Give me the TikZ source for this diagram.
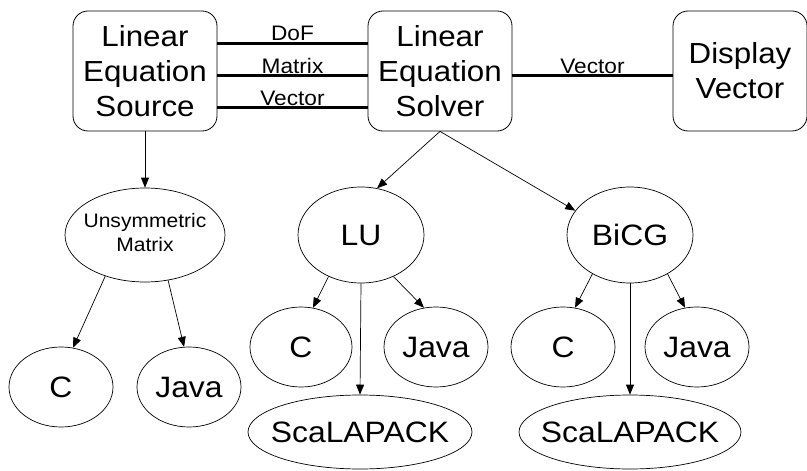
\documentclass[tikz,border=0pt]{standalone}
\usepackage{fontspec}
\setmainfont[FakeStretch=1.08]{Liberation Sans}
\usetikzlibrary{shapes.geometric,arrows.meta}
\newcommand{\zw}[1]{\makebox[0pt]{#1}}
\begin{document}
\begin{tikzpicture}[x=1pt,y=-1pt,
  box/.style={draw,rounded corners=15pt,minimum width=144pt,minimum height=120pt,line width=0.8pt,align=center,inner sep=0pt,font=\fontsize{29}{35}\selectfont},
  ell/.style={draw,ellipse,inner sep=0pt,line width=0.7pt,font=\fontsize{29.5}{34}\selectfont},
  bus/.style={line width=3pt},
  lbl/.style={anchor=base,yshift=2pt,inner sep=0pt,font=\fontsize{21}{23}\selectfont},
  arr/.style={line width=0.7pt,-{Triangle[length=10pt,width=8pt]}}]
\useasboundingbox (0,0) rectangle (807,471);
% boxes
\node[box] (src) at (145,71) {Linear\\Equation\\Source};
\node[box] (slv) at (440,71) {Linear\\Equation\\Solver};
\node[box,minimum width=134pt] (dsp) at (740,71) {Display\\Vector};
% ellipses
\node[ell,minimum width=160pt,minimum height=94pt] (um) at (145,235)
  {\zw{\fontsize{19.5}{24}\selectfont\begin{tabular}{@{}c@{}}Unsymmetric\\[0pt]Matrix\end{tabular}}};
\node[ell,minimum width=104pt,minimum height=80pt] (c1) at (61,387) {\zw{C}};
\node[ell,minimum width=104pt,minimum height=80pt] (j1) at (189,387) {\zw{Java}};
\node[ell,minimum width=126pt,minimum height=96pt] (lu) at (361,235) {\zw{LU}};
\node[ell,minimum width=126pt,minimum height=96pt] (bi) at (630,235) {\zw{BiCG}};
\node[ell,minimum width=102pt,minimum height=80pt] (c2) at (301,347) {\zw{C}};
\node[ell,minimum width=104pt,minimum height=80pt] (j2) at (436,347) {\zw{Java}};
\node[ell,minimum width=104pt,minimum height=80pt] (c3) at (563,347) {\zw{C}};
\node[ell,minimum width=104pt,minimum height=80pt] (j3) at (697,347) {\zw{Java}};
\node[ell,minimum width=224pt,minimum height=74pt] (s2) at (360,432) {\zw{ScaLAPACK}};
\node[ell,minimum width=222pt,minimum height=74pt] (s3) at (630,432) {\zw{ScaLAPACK}};
% buses
\draw[bus] ([yshift=28pt]src.east) -- node[lbl]{DoF} ([yshift=28pt]slv.west);
\draw[bus] ([yshift=-4pt]src.east) -- node[lbl]{Matrix} ([yshift=-4pt]slv.west);
\draw[bus] ([yshift=-36pt]src.east) -- node[lbl]{Vector} ([yshift=-36pt]slv.west);
\draw[bus] ([yshift=-4pt]slv.east) -- node[lbl]{Vector} ([yshift=-4pt]dsp.west);
% arrows
\draw[arr] (src.south) -- (um.north);
\draw[arr] (slv.south) -- (lu.71);
\draw[arr] (slv.south) -- (bi.156);
\draw[arr] (um.226) -- (c1.73);
\draw[arr] (um.297) -- (j1.97);
\draw[arr] (lu.232) -- (c2.73);
\draw[arr] (lu.308) -- (j2.107);
\draw[arr] (lu.south) -- (s2.north);
\draw[arr] (bi.226) -- (c3.73);
\draw[arr] (bi.314) -- (j3.107);
\draw[arr] (bi.south) -- (s3.north);
\end{tikzpicture}
\end{document}
